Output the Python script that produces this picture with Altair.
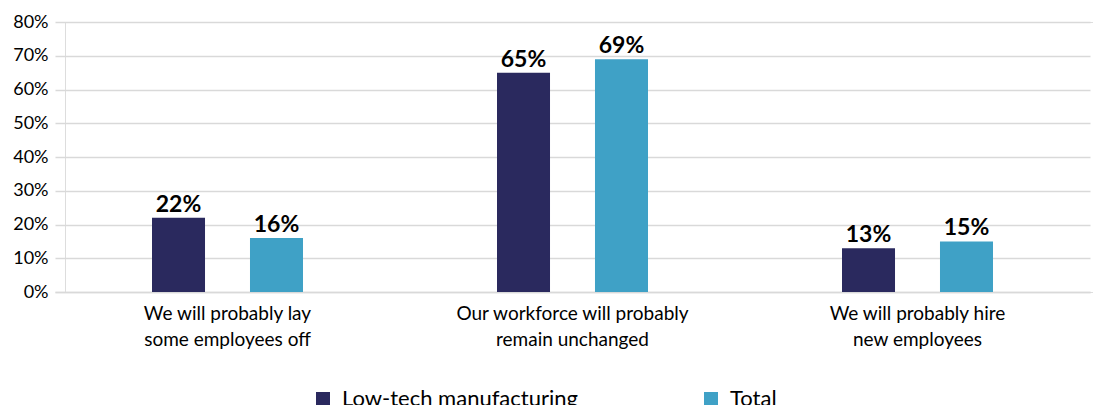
import altair as alt
import pandas as pd

# Survey answers on expected workforce change
categories = [
    "We will probably lay|some employees off",
    "Our workforce will probably|remain unchanged",
    "We will probably hire|new employees",
]
series = ["Low-tech manufacturing", "Total"]
low_tech = [0.22, 0.65, 0.13]
total = [0.16, 0.69, 0.15]
colors = ["#2A295E", "#3FA1C6"]
y_ticks = [0, 0.1, 0.2, 0.3, 0.4, 0.5, 0.6, 0.7, 0.8]

rows = []
for cat, a, b in zip(categories, low_tech, total):
    rows.append({"category": cat, "series": series[0], "value": a})
    rows.append({"category": cat, "series": series[1], "value": b})
df = pd.DataFrame(rows)

FONT = "Lato"

x_enc = alt.X(
    "category:N",
    sort=categories,
    scale=alt.Scale(range=[-10, 1025], paddingInner=0, paddingOuter=0),
    axis=alt.Axis(
        title=None,
        labelAngle=0,
        labelExpr="split(datum.value, '|')",
        labelFont=FONT,
        labelFontSize=19,
        labelColor="#000000",
        labelBaseline="top",
        labelPadding=12,
        labelLineHeight=26,
        labelLimit=400,
        ticks=False,
        domainColor="#D9D9D9",
        domainWidth=1.5,
        grid=False,
    ),
)
xoff_enc = alt.XOffset(
    "series:N",
    sort=series,
    scale=alt.Scale(paddingInner=0.459, paddingOuter=0.99),
)
y_enc = alt.Y(
    "value:Q",
    scale=alt.Scale(domain=[0, 0.8], nice=False),
    axis=alt.Axis(
        title=None,
        values=y_ticks,
        format=".0%",
        labelFont=FONT,
        labelFontSize=18,
        labelColor="#000000",
        labelPadding=17,
        ticks=False,
        domain=False,
        gridColor="#D9D9D9",
        gridWidth=1.5,
    ),
)

bars = alt.Chart(df).mark_bar().encode(
    x=x_enc,
    xOffset=xoff_enc,
    y=y_enc,
    color=alt.Color(
        "series:N",
        sort=series,
        scale=alt.Scale(domain=series, range=colors),
        legend=alt.Legend(
            title=None,
            orient="none",
            legendX=247,
            legendY=366,
            direction="horizontal",
            symbolType="square",
            symbolSize=196,
            symbolStrokeWidth=0,
            labelFont=FONT,
            labelFontSize=22,
            labelColor="#000000",
            labelOffset=8,
            columnPadding=122,
            labelLimit=400,
        ),
    ),
)

labels = alt.Chart(df).mark_text(
    baseline="bottom", dy=-1, font=FONT, fontSize=23, fontWeight="bold", color="#000000"
).encode(
    x=x_enc,
    xOffset=xoff_enc,
    y=y_enc,
    text=alt.Text("value:Q", format=".0%"),
)

chart = (
    alt.layer(bars, labels)
    .properties(
        width=1028,
        height=270,
        autosize="none",
        padding={"left": 65, "top": 22, "right": 0, "bottom": 113},
    )
    .configure_view(stroke=None)
    .configure(background="#FFFFFF")
)

chart.save("out.html", embed_options={"renderer": "svg", "actions": False})
